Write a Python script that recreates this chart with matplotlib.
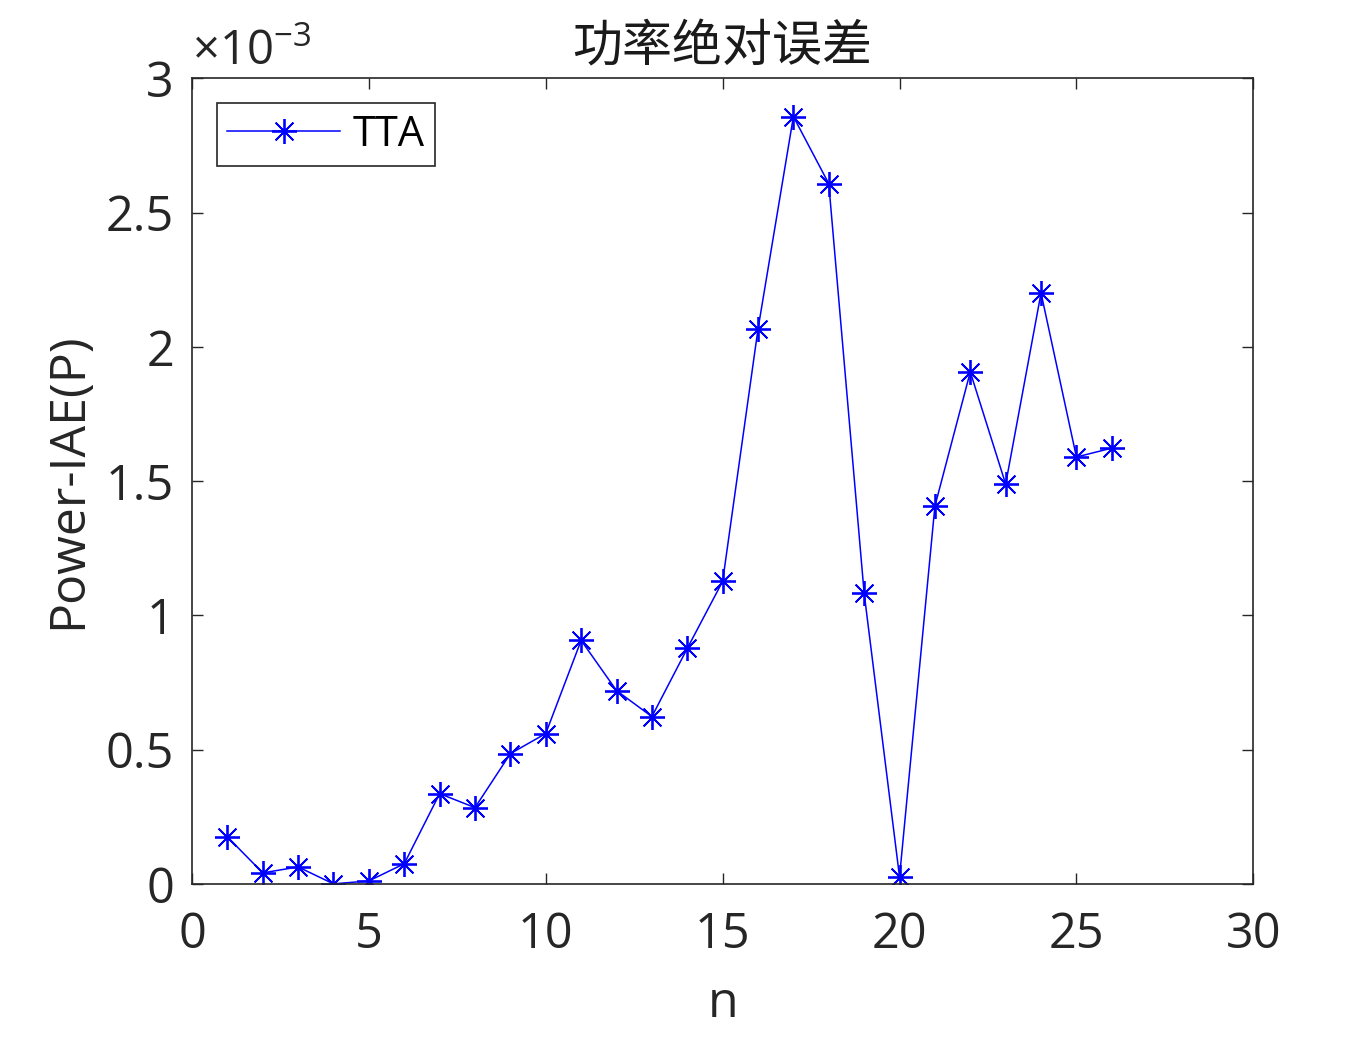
import matplotlib.pyplot as plt
import numpy as np

plt.rcParams['font.family'] = ['Open Sans', 'Noto Sans CJK SC', 'DejaVu Sans']
plt.rcParams['mathtext.fontset'] = 'custom'
plt.rcParams['mathtext.rm'] = 'Open Sans'
plt.rcParams['mathtext.it'] = 'Open Sans'

# values in units of 1e-3
n = list(range(1, 27))
iae = [0.175, 0.041, 0.063, 0.000, 0.011, 0.075, 0.336, 0.284, 0.485, 0.560,
       0.907, 0.720, 0.623, 0.877, 1.127, 2.067, 2.858, 2.608, 1.082, 0.026,
       1.407, 1.907, 1.489, 2.201, 1.590, 1.623]
xticks = [0, 5, 10, 15, 20, 25, 30]
yticks = [0, 0.5, 1, 1.5, 2, 2.5, 3]
ytick_labels = ['0', '0.5', '1', '1.5', '2', '2.5', '3']

fig = plt.figure(figsize=(13.52, 10.46), dpi=100)
ax = fig.add_axes([0.142, 0.155, 0.785, 0.770])

ax.plot(n, iae, color='#0000ff', marker=(8, 2, 0), markersize=18, linewidth=1.1,
        markeredgewidth=1.3, label='TTA')

ax.set_xlim(0, 30)
ax.set_ylim(0, 3)
ax.set_xticks(xticks)
ax.set_yticks(yticks)
ax.set_yticklabels(ytick_labels)
ax.tick_params(direction='in', top=True, right=True, length=8, width=1,
               labelsize=35, colors='#262626')
ax.tick_params(axis='x', pad=19)
ax.tick_params(axis='y', pad=13)
for s in ax.spines.values():
    s.set_linewidth(1.2)
    s.set_color('#262626')

ax.set_xlabel('n', fontsize=36, color='#262626', labelpad=14)
ax.set_ylabel('Power-IAE(P)', fontsize=36, color='#262626', labelpad=9)
ax.set_title('功率绝对误差', fontsize=36, color='#1a1a1a', pad=12,
             family=['Noto Sans CJK SC', 'DejaVu Sans'])
ax.text(0.0, 1.003, r'$\times$10$^{-3}$', transform=ax.transAxes, fontsize=34,
        color='#262626', ha='left', va='bottom')

leg = ax.legend(loc='upper left', fontsize=30, fancybox=False, framealpha=1,
                edgecolor='#262626', handlelength=2.7, borderaxespad=0.6,
                borderpad=0.25, handletextpad=0.3)
leg.get_frame().set_linewidth(1.2)

fig.savefig('out.png', dpi=100)
